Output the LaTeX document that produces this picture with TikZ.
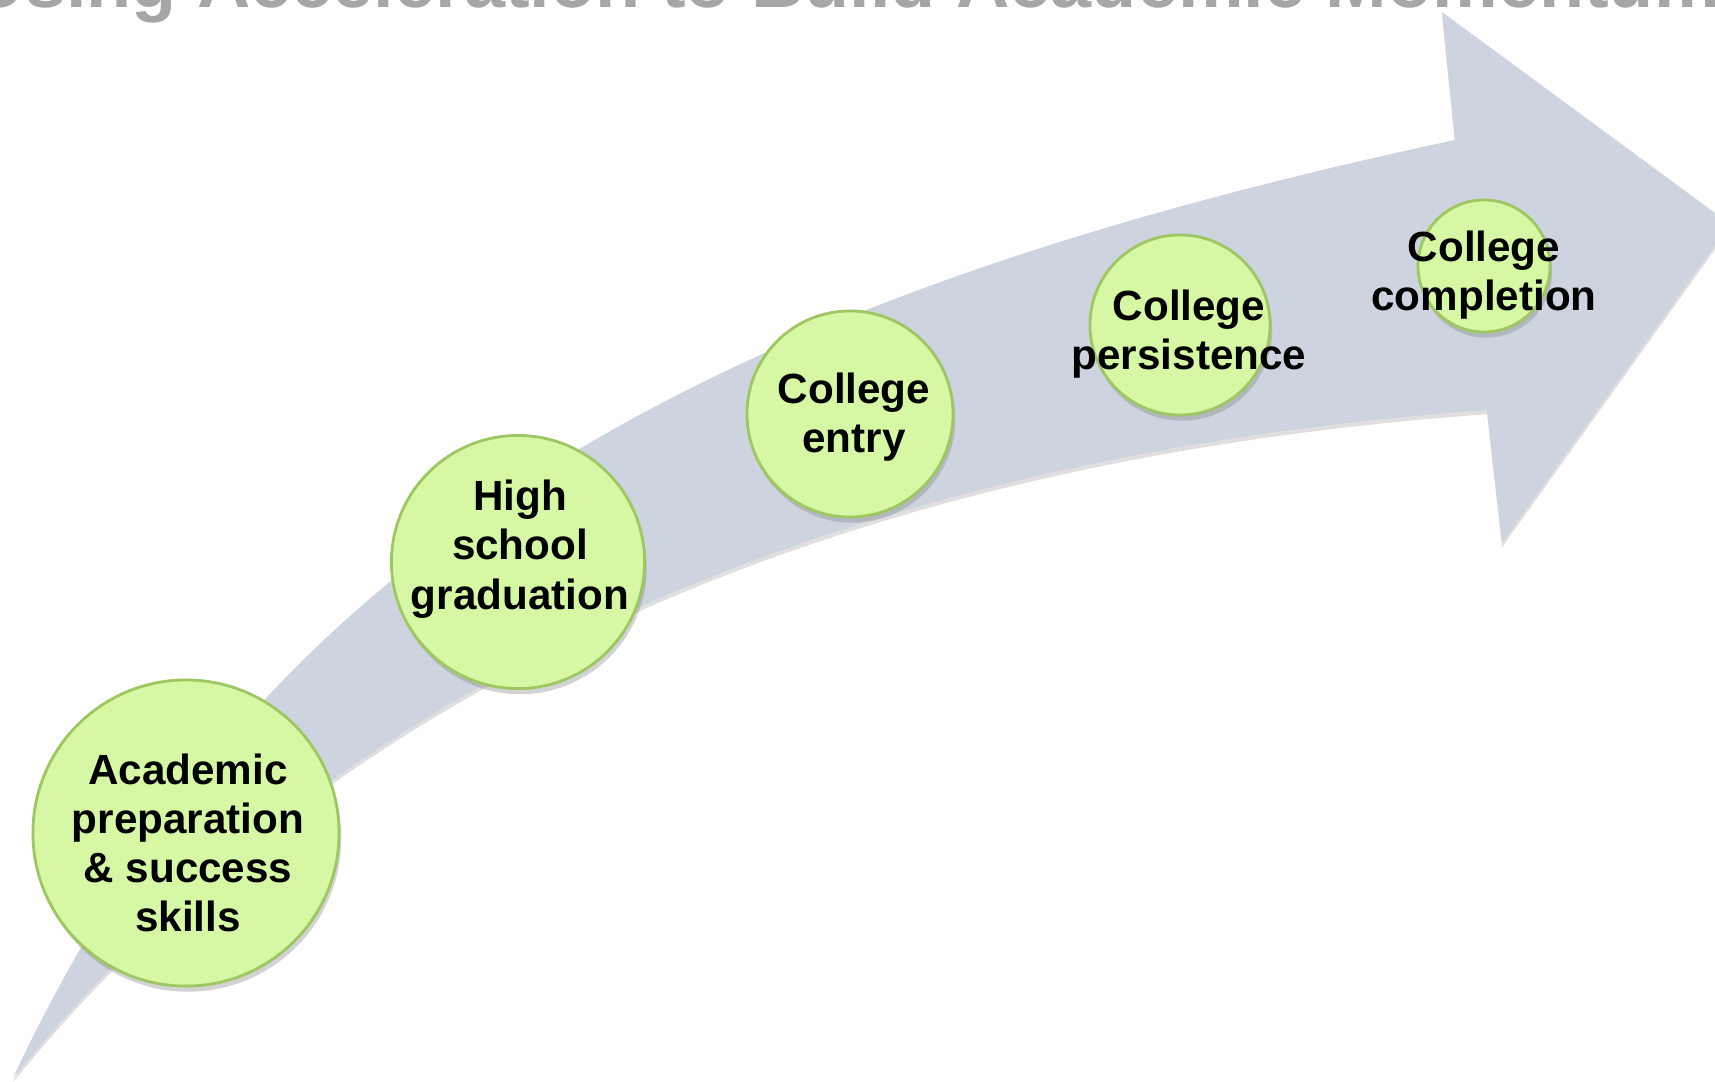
\documentclass[tikz,border=0pt]{standalone}
\usepackage{fontspec}
\setmainfont{Liberation Sans}
\usepackage{tikz}
\usetikzlibrary{shadows}
\definecolor{flecha}{RGB}{205,212,223}
\definecolor{verde}{RGB}{214,247,163}
\definecolor{verdeborde}{RGB}{158,198,98}
\definecolor{gristitulo}{RGB}{166,166,166}
\tikzset{
	x=0.01cm, y=-0.01cm, % Un pixel de la imagen, el eje y hacia abajo
	burbuja/.style={circle, fill=verde, draw=verdeborde, line width=0.8pt, inner sep=0pt,
		drop shadow={opacity=0.35, shadow xshift=0.6pt, shadow yshift=-1.6pt}}, % Circulos verdes
	texto/.style={align=center, inner sep=0pt, font=\fontsize{12}{14}\selectfont\bfseries}, % Texto de los circulos
	sombra/.style={drop shadow={opacity=0.25, shadow xshift=0pt, shadow yshift=-1.2pt}} % Sombra de la flecha
}

\begin{document}
\begin{tikzpicture}
	\useasboundingbox (0,0) rectangle (1715,1081);
	\clip (0,0) rectangle (1715,1081);
	\node[anchor=base west, inner sep=0pt, text=gristitulo, font=\fontsize{21}{25}\selectfont\bfseries] (titulo) at (-29,7) {Using Acceleration to Build Academic Momentum};
	% la flecha curva
	\fill[flecha, sombra] (13,1078) .. controls (261,546) and (705,300) .. (1455,140)
		-- (1442,12) -- (1730,224) -- (1502,543) -- (1487,410)
		.. controls (860,455) and (346,667) .. (13,1078) -- cycle;
	% las etapas
	\node[burbuja, minimum size=3.06cm] (c0) at (186,833) {};
	\node[burbuja, minimum size=2.53cm] (c1) at (518,562) {};
	\node[burbuja, minimum size=2.06cm] (c2) at (850,414) {};
	\node[burbuja, minimum size=1.80cm] (c3) at (1180,325) {};
	\node[burbuja, minimum size=1.32cm] (c4) at (1484,266) {};
	\node[texto] (t0) at (188,843) {Academic\\preparation\\\& success\\skills};
	\node[texto] (t1) at (520,549) {High\\school\\graduation};
	\node[texto] (t2) at (854,417) {College\\entry};
	\node[texto] (t3) at (1189,334) {College\\persistence};
	\node[texto] (t4) at (1484,275) {College\\completion};
\end{tikzpicture}
\end{document}
